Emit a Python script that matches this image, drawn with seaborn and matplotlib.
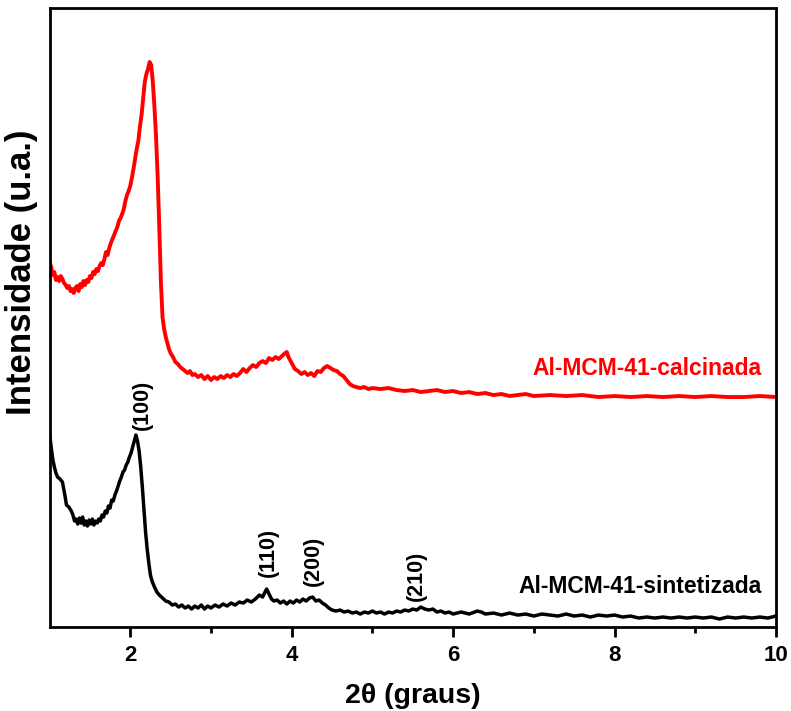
import matplotlib
matplotlib.use("Agg")
import matplotlib.pyplot as plt
import seaborn as sns
import pandas as pd

# ---- data (2theta in degrees, intensity in arbitrary units) ----
sint_2theta = [1.00, 1.02, 1.04, 1.06, 1.08, 1.10, 1.13, 1.16, 1.19, 1.21, 1.24, 1.27, 1.29, 1.31, 1.33,
               1.35, 1.37, 1.39, 1.41, 1.43, 1.45, 1.47, 1.49, 1.51, 1.53, 1.55, 1.57, 1.59, 1.61, 1.63,
               1.65, 1.67, 1.69, 1.71, 1.73, 1.75, 1.77, 1.79, 1.81, 1.83, 1.85, 1.87, 1.89, 1.91, 1.93,
               1.95, 1.97, 1.99, 2.01, 2.03, 2.05, 2.07, 2.09, 2.11, 2.13, 2.15, 2.17, 2.19, 2.21, 2.23,
               2.25, 2.27, 2.30, 2.33, 2.36, 2.40, 2.44, 2.48, 2.52, 2.56, 2.60, 2.64, 2.68, 2.72, 2.76,
               2.80, 2.84, 2.88, 2.92, 2.96, 3.00, 3.05, 3.10, 3.15, 3.20, 3.25, 3.30, 3.35, 3.40, 3.45,
               3.50, 3.55, 3.60, 3.64, 3.67, 3.69, 3.72, 3.75, 3.78, 3.82, 3.86, 3.90, 3.94, 3.98, 4.02,
               4.06, 4.10, 4.14, 4.18, 4.22, 4.26, 4.30, 4.34, 4.38, 4.42, 4.46, 4.50, 4.55, 4.60, 4.65,
               4.70, 4.75, 4.80, 4.85, 4.90, 4.95, 5.00, 5.05, 5.10, 5.15, 5.20, 5.25, 5.30, 5.35, 5.40,
               5.45, 5.50, 5.55, 5.60, 5.65, 5.70, 5.75, 5.80, 5.85, 5.90, 5.95, 6.00, 6.10, 6.20, 6.30,
               6.35, 6.40, 6.50, 6.60, 6.70, 6.80, 6.90, 7.00, 7.10, 7.20, 7.30, 7.40, 7.50, 7.60, 7.70,
               7.80, 7.90, 8.00, 8.10, 8.20, 8.30, 8.40, 8.50, 8.60, 8.70, 8.80, 8.90, 9.00, 9.10, 9.20,
               9.30, 9.40, 9.50, 9.60, 9.70, 9.80, 9.90, 10.00]
sint_int = [194, 180, 168, 160, 154, 150, 148, 145, 132, 122, 120, 116, 112, 106, 108,
            103, 109, 104, 110, 102, 106, 101, 107, 103, 108, 102, 106, 104, 108, 106,
            112, 110, 116, 114, 121, 119, 127, 126, 132, 136, 141, 146, 150, 155, 157,
            162, 165, 170, 174, 180, 186, 192, 186, 176, 160, 140, 117, 95, 78, 64,
            52, 46, 40, 35, 32, 29, 26, 25, 22, 23, 20, 22, 19, 21, 18,
            21, 19, 22, 18, 21, 19, 22, 20, 23, 21, 24, 22, 25, 24, 27,
            25, 28, 32, 30, 35, 38, 33, 28, 26, 27, 24, 26, 23, 26, 24,
            27, 25, 28, 26, 29, 30, 26, 27, 24, 22, 19, 17, 16, 17, 15,
            16, 14, 15, 13, 15, 14, 16, 14, 15, 13, 15, 14, 16, 15, 17,
            16, 18, 17, 20, 18, 17, 18, 15, 16, 14, 15, 13, 15, 13, 16,
            15, 13, 14, 12, 14, 12, 13, 11, 13, 12, 11, 13, 11, 12, 10,
            12, 11, 12, 10, 11, 9, 10, 9, 10, 9, 10, 9, 10, 9, 10,
            8, 10, 9, 10, 9, 10, 9, 11]

calc_2theta = [1.00, 1.02, 1.04, 1.06, 1.08, 1.10, 1.12, 1.14, 1.16, 1.18, 1.20, 1.22, 1.24, 1.26, 1.28,
               1.30, 1.32, 1.34, 1.36, 1.38, 1.40, 1.42, 1.44, 1.46, 1.48, 1.50, 1.52, 1.54, 1.56, 1.58,
               1.60, 1.62, 1.64, 1.66, 1.68, 1.70, 1.72, 1.74, 1.76, 1.78, 1.80, 1.82, 1.84, 1.86, 1.88,
               1.90, 1.92, 1.94, 1.96, 1.98, 2.00, 2.02, 2.04, 2.06, 2.08, 2.10, 2.12, 2.14, 2.16, 2.18,
               2.20, 2.22, 2.24, 2.26, 2.28, 2.30, 2.32, 2.34, 2.36, 2.38, 2.40, 2.42, 2.44, 2.46, 2.48,
               2.50, 2.53, 2.56, 2.59, 2.62, 2.65, 2.68, 2.71, 2.74, 2.77, 2.80, 2.84, 2.88, 2.92, 2.96,
               3.00, 3.04, 3.08, 3.12, 3.16, 3.20, 3.24, 3.28, 3.32, 3.36, 3.40, 3.44, 3.48, 3.52, 3.56,
               3.60, 3.64, 3.68, 3.72, 3.76, 3.80, 3.84, 3.88, 3.92, 3.94, 3.96, 4.00, 4.04, 4.08, 4.12,
               4.16, 4.20, 4.24, 4.28, 4.32, 4.36, 4.40, 4.44, 4.48, 4.52, 4.56, 4.60, 4.64, 4.68, 4.72,
               4.76, 4.80, 4.85, 4.90, 4.95, 5.00, 5.10, 5.20, 5.30, 5.40, 5.50, 5.60, 5.70, 5.80, 5.90,
               6.00, 6.10, 6.20, 6.30, 6.40, 6.50, 6.60, 6.70, 6.80, 6.90, 7.00, 7.20, 7.40, 7.60, 7.80,
               8.00, 8.20, 8.40, 8.60, 8.80, 9.00, 9.20, 9.40, 9.60, 9.80, 10.00]
calc_int = [365, 360, 352, 355, 347, 350, 346, 351, 348, 344, 342, 339, 341, 336, 338,
            334, 339, 341, 336, 343, 340, 346, 342, 347, 345, 351, 349, 355, 353, 358,
            356, 361, 364, 362, 368, 375, 372, 379, 384, 388, 392, 396, 400, 406, 409,
            413, 418, 426, 432, 436, 441, 449, 458, 468, 478, 486, 500, 512, 528, 545,
            553, 558, 565, 562, 545, 520, 490, 450, 400, 345, 310, 298, 290, 284, 278,
            274, 270, 265, 263, 260, 258, 256, 254, 256, 252, 253, 250, 252, 248, 251,
            247, 250, 248, 251, 249, 252, 250, 253, 251, 254, 258, 255, 259, 262, 260,
            264, 266, 264, 269, 267, 270, 268, 271, 274, 275, 270, 264, 258, 256, 253,
            255, 252, 254, 251, 256, 255, 259, 261, 259, 257, 256, 253, 251, 247, 243,
            241, 240, 239, 240, 238, 239, 238, 239, 237, 236, 237, 235, 236, 237, 235,
            236, 234, 235, 233, 234, 232, 233, 231, 232, 233, 231, 232, 231, 232, 230,
            231, 230, 231, 230, 231, 230, 231, 230, 230, 231, 230]

series_names = ["Al-MCM-41-sintetizada", "Al-MCM-41-calcinada"]
hkl_labels = ["(100)", "(110)", "(200)", "(210)"]
hkl_2theta = [2.145, 3.706, 4.263, 5.551]
hkl_int = [222, 75, 66, 51]
x_ticks = [2, 4, 6, 8, 10]

# ---- plotting ----
sns.set_style("ticks")
plt.rcParams["font.family"] = ["Liberation Sans", "DejaVu Sans"]
plt.rcParams["font.weight"] = "bold"
plt.rcParams["text.color"] = "black"
plt.rcParams["axes.labelcolor"] = "black"
plt.rcParams["xtick.color"] = "black"
plt.rcParams["ytick.color"] = "black"

fig = plt.figure(figsize=(7.91, 7.11), dpi=100)
ax = fig.add_axes([0.0626, 0.1181, 0.9184, 0.8706])

df_s = pd.DataFrame({"x": sint_2theta, "y": sint_int})
df_c = pd.DataFrame({"x": calc_2theta, "y": calc_int})
sns.lineplot(data=df_s, x="x", y="y", ax=ax, color="black", linewidth=2.5,
             estimator=None, sort=False)
sns.lineplot(data=df_c, x="x", y="y", ax=ax, color="#ff0000", linewidth=2.8,
             estimator=None, sort=False)

ax.set_xlim(1, 10)
ax.set_ylim(0, 619)
ax.set_xticks(x_ticks)
ax.set_xticks([3, 5, 7, 9], minor=True)
ax.set_yticks([])
ax.tick_params(axis="x", which="major", direction="out", length=7, width=2,
               labelsize=16, pad=6, colors="black")
ax.tick_params(axis="x", which="minor", direction="out", length=4, width=2,
               colors="black")
for lab in ax.get_xticklabels():
    lab.set_fontweight("bold")
for sp in ax.spines.values():
    sp.set_linewidth(2)
    sp.set_color("black")

ax.set_xlabel("2\u03b8 (graus)", fontsize=20.5, fontweight="bold", labelpad=12,
              color="black")
ax.set_ylabel("Intensidade (u.a.)", fontsize=25, fontweight="bold",
              color="black")
ax.yaxis.set_label_coords(-0.016, 0.573)

for lab, xv, yv in zip(hkl_labels, hkl_2theta, hkl_int):
    ax.text(xv, yv, lab, rotation=90, ha="center", va="center",
            fontsize=15.5, fontweight="bold", color="black")

ax.text(9.823, 259, series_names[1], ha="right", va="center", fontsize=16.5,
        fontweight="bold", color="#ff0000")
ax.text(9.823, 41, series_names[0], ha="right", va="center", fontsize=16.5,
        fontweight="bold", color="black")

fig.savefig("out.png", dpi=100)
